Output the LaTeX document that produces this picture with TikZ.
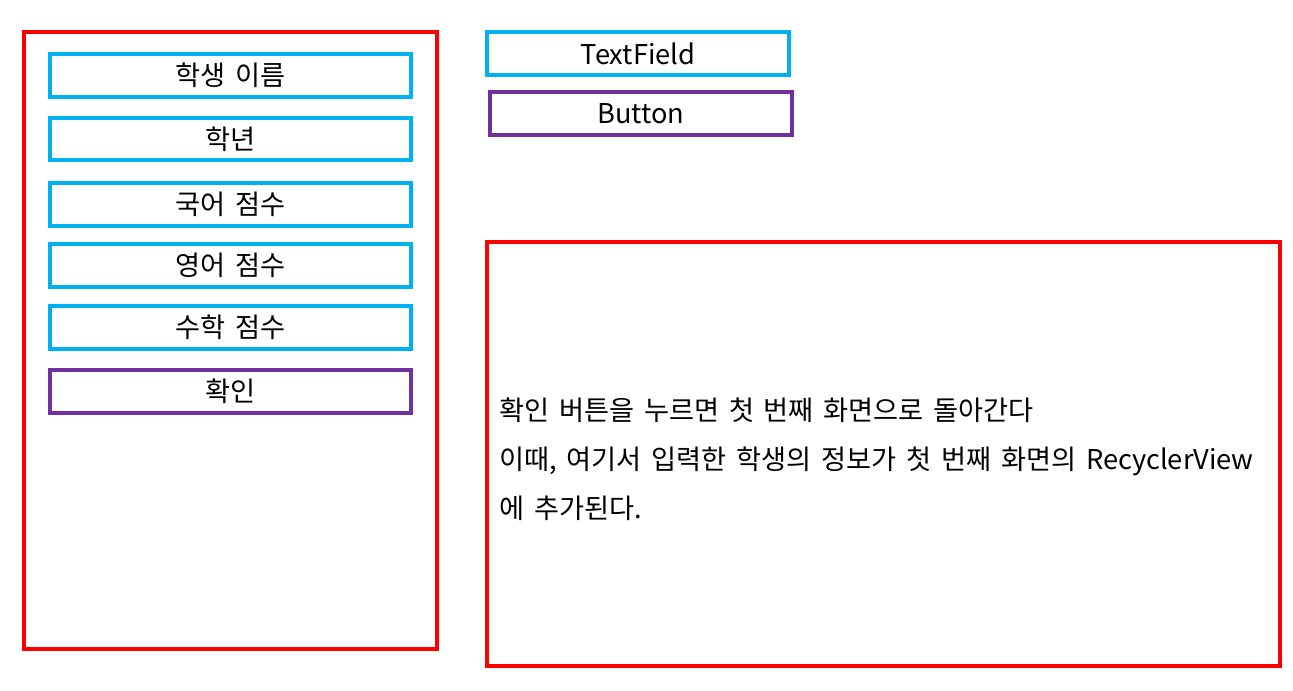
\documentclass[tikz,border=0pt]{standalone}
\usepackage{fontspec}
\setmainfont[WordSpace=1.6]{Noto Sans CJK KR}
\usetikzlibrary{positioning}
\definecolor{fieldblue}{HTML}{00B0F0}
\definecolor{btnpurple}{HTML}{7030A0}
\tikzset{
  screen/.style={draw=red, line width=2pt},
  field/.style={draw=fieldblue, line width=2pt},
  btn/.style={draw=btnpurple, line width=2pt},
  label/.style={font=\fontsize{15.5}{18}\selectfont, inner sep=0pt}
}
\begin{document}
\begin{tikzpicture}[x=0.02cm, y=-0.02cm]
            \useasboundingbox (0,0) rectangle (1293,690);
            % input screen
            \draw[screen] (24,32) rectangle (437,649) coordinate (inputscreen);
            \draw[field] (50,54) rectangle (411,97) node[midway, label] (name) {학생 이름};
            \draw[field] (50,118) rectangle (411,160) node[midway, label] (grade) {학년};
            \draw[field] (50,183) rectangle (411,226) node[midway, label] (kor) {국어 점수};
            \draw[field] (50,244) rectangle (411,287) node[midway, label] (eng) {영어 점수};
            \draw[field] (50,306) rectangle (411,349) node[midway, label] (math) {수학 점수};
            \draw[btn] (50,370) rectangle (411,413) node[midway, label] (ok) {확인};
            % legend
            \draw[field] (487,32) rectangle (789,75) node[midway, label] (textfield) {TextField};
            \draw[btn] (490,92) rectangle (792,135) node[midway, label] (button) {Button};
            % description
            \draw[screen] (487,242) rectangle (1280,666);
            \node[label, anchor=west, align=left, font=\fontsize{15.5}{27.8}\selectfont] (desc) at (499,459)
              {확인 버튼을 누르면 첫 번째 화면으로 돌아간다\\
               이때, 여기서 입력한 학생의 정보가 첫 번째 화면의 RecyclerView\\
               에 추가된다.};
        \end{tikzpicture}
\end{document}
